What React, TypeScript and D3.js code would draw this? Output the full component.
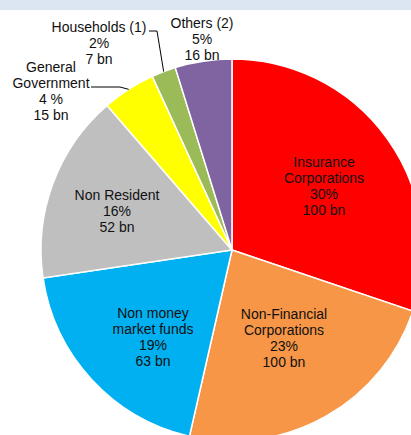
import { useEffect, useRef } from "react";
import * as d3 from "d3";

// slice order, clockwise from 12 o'clock
const categories = [
  "Insurance Corporations",
  "Non-Financial Corporations",
  "Non money market funds",
  "Non Resident",
  "General Government",
  "Households (1)",
  "Others (2)",
];
// slice sizes (%)
const shares = [30.2, 23.4, 19.1, 16.0, 4.5, 2.05, 4.8];
// labels exactly as printed
const labelLines = [
  ["Insurance", "Corporations"],
  ["Non-Financial", "Corporations"],
  ["Non money", "market funds"],
  ["Non Resident"],
  ["General", "Government"],
  ["Households (1)"],
  ["Others (2)"],
];
const pctLabels = ["30%", "23%", "19%", "16%", "4 %", "2%", "5%"];
const amountLabels = ["100 bn", "100 bn", "63 bn", "52 bn", "15 bn", "7 bn", "16 bn"];
const colors = ["#ff0000", "#f79646", "#00b0f0", "#bfbfbf", "#ffff00", "#9bbb59", "#8064a2"];

const App = () => {
  const ref = useRef<SVGSVGElement>(null);

  useEffect(() => {
    const width = 411;
    const height = 435;
    const cx = 232;
    const cy = 250;
    const R = 191;
    const lineH = 16;

    const svg = d3.select(ref.current);
    svg.selectAll("*").remove();

    // light header strip
    svg.append("rect").attr("x", 0).attr("y", 0).attr("width", width).attr("height", 10).attr("fill", "#dce6f2");

    const data = categories.map((c, i) => ({ name: c, value: shares[i], i }));
    const pie = d3.pie<any>().sort(null).value((d) => d.value).startAngle(0).endAngle(2 * Math.PI);
    const arcs = pie(data);
    const arc = d3.arc<any>().innerRadius(0).outerRadius(R);
    const edgeArc = d3.arc<any>().innerRadius(R).outerRadius(R);

    const g = svg.append("g").attr("transform", `translate(${cx},${cy})`);

    g.selectAll("path.slice")
      .data(arcs)
      .enter()
      .append("path")
      .attr("class", "slice")
      .attr("d", arc)
      .attr("fill", (d) => colors[d.data.i])
      .attr("stroke", "#fff")
      .attr("stroke-width", 1.5);

    // label block centres relative to the pie centre (hand placed like the original)
    const labelPos: [number, number][] = [
      [92, -64],
      [52, 88.5],
      [-79, 87],
      [-115, -39],
      [-181, -159],
      [-133, -207],
      [-30, -211],
    ];

    arcs.forEach((d) => {
      const i = d.data.i;
      const lines = [...labelLines[i], pctLabels[i], amountLabels[i]];
      const [lx, ly] = labelPos[i];
      const top = ly - ((lines.length - 1) * lineH) / 2;
      const t = g
        .append("text")
        .attr("text-anchor", "middle")
        .attr("font-family", "'Liberation Sans', Arial, sans-serif")
        .attr("font-size", 14)
        .attr("fill", "#111");
      lines.forEach((s, k) => {
        t.append("tspan")
          .attr("x", lx)
          .attr("y", top + k * lineH)
          .attr("dy", "0.35em")
          .text(s);
      });
    });

    // leader lines for the two small outside labels
    const leaders: { i: number; elbow: [number, number]; end: [number, number] }[] = [
      { i: 5, elbow: [-75, -219], end: [-83, -219] },
      { i: 4, elbow: [-112, -163], end: [-141, -163] },
    ];
    leaders.forEach((l) => {
      const [px, py] = edgeArc.centroid(arcs[l.i]);
      g.append("path")
        .attr("d", d3.line()([[px, py], l.elbow, l.end]))
        .attr("fill", "none")
        .attr("stroke", "#000")
        .attr("stroke-width", 1);
    });
  }, []);

  return (
    <svg
      ref={ref}
      width={411}
      height={435}
      style={{ position: "absolute", left: 0, top: 0, background: "#fff" }}
    ></svg>
  );
};

export default App;
